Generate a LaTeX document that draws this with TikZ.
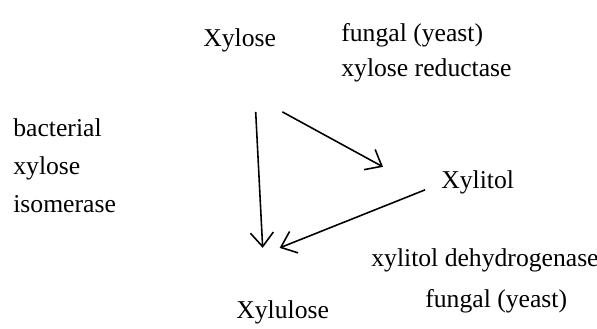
\documentclass[tikz,border=0pt]{standalone}
\usepackage{fontspec}
\setmainfont{Liberation Serif}
\usetikzlibrary{arrows.meta,calc}

\begin{document}
\begin{tikzpicture}[x=0.02cm,y=-0.02cm,
 lbl/.style={anchor=base west,inner sep=0pt,font=\fontsize{14.6}{17}\selectfont},
 flow/.style={-{Straight Barb[length=2.8mm,width=4.6mm]},line width=0.9pt}]
\useasboundingbox (0,0) rectangle (597,328);
% sugars
\node[lbl] (xylose) at (203,46) {Xylose};
\node[lbl] (xylitol) at (441,188) {Xylitol};
\node[lbl] (xylulose) at (236,318) {Xylulose};
% enzymes
\node[lbl] (fungalA) at (341,41) {fungal (yeast)};
\node[lbl] (reductase) at (341,76) {xylose reductase};
\node[lbl] (bacterial) at (13,136) {bacterial};
\node[lbl] (isoxylose) at (13,174) {xylose};
\node[lbl] (isomerase) at (13,212) {isomerase};
\node[lbl] (dehydro) at (371,266) {xylitol dehydrogenase};
\node[lbl] (fungalB) at (425,307) {fungal (yeast)};
% pathways
\draw[flow] ($(xylose.south)+(16,60)$) -- ($(xylulose.north)+(-20,-52)$);
\draw[flow] ($(xylose.south east)+(6,60)$) -- ($(xylitol.west)+(-58,-15)$);
\draw[flow] ($(xylitol.south west)+(-16,-4)$) -- ($(xylulose.north)+(-3,-52)$);
\end{tikzpicture}
\end{document}
